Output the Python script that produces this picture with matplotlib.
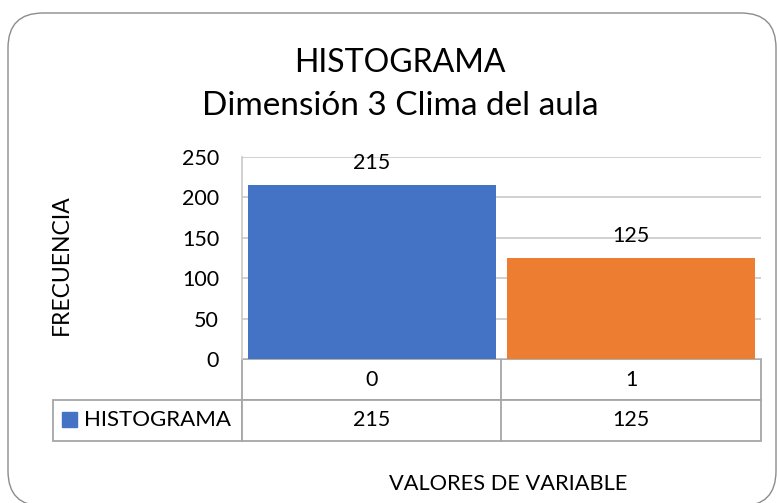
import matplotlib.pyplot as plt
from matplotlib.patches import FancyBboxPatch, Rectangle
from matplotlib.table import Table

# chart data
categories = ["0", "1"]
freq = [215, 125]
series_name = "HISTOGRAMA"
bar_colors = ["#4472C4", "#ED7D31"]
yticks = [0, 50, 100, 150, 200, 250]

title_1 = "HISTOGRAMA"
title_2 = "Dimensión 3 Clima del aula"
ylabel = "FRECUENCIA"
xlabel = "VALORES DE VARIABLE"

plt.rcParams["font.family"] = ["Lato", "DejaVu Sans"]

W, H = 777, 503
fig = plt.figure(figsize=(W / 100, H / 100), dpi=100)


def fx(px):
    return px / W


def fy(py):
    return 1 - py / H


# rounded outer frame of the chart (kept behind everything)
frame = FancyBboxPatch((fx(8), fy(506)), fx(776) - fx(8), fy(13) - fy(506),
                       boxstyle="round,pad=0,rounding_size=0.045",
                       transform=fig.transFigure, facecolor="white",
                       edgecolor="#8c8c8c", lw=1.0, mutation_aspect=W / H,
                       zorder=-10)
fig.patches.append(frame)

# plot area
left, right, top, bottom = 242, 761, 157, 359
ax = fig.add_axes([fx(left), fy(bottom), fx(right) - fx(left), fy(top) - fy(bottom)])
ax.set_facecolor("none")

x = list(range(len(categories)))
bars = ax.bar(x, freq, width=0.955, color=bar_colors, zorder=3)
ax.bar_label(bars, labels=[str(v) for v in freq], padding=9, fontsize=15.5)

ax.set_xlim(-0.5, len(categories) - 0.5)
ax.set_ylim(0, 250)
ax.set_yticks(yticks)
ax.set_yticklabels([str(t) for t in yticks], fontsize=15.5)
ax.tick_params(axis="y", length=0, pad=16.5)
ax.set_xticks([])
ax.yaxis.grid(True, color="#c8c8c8", lw=1.2, zorder=0)
ax.set_axisbelow(True)
for s in ["top", "right", "bottom"]:
    ax.spines[s].set_visible(False)
ax.spines["left"].set_color("#c8c8c8")
ax.spines["left"].set_linewidth(1.2)

# data table under the axis (bbox covers the value columns only,
# the row-label column hangs to the left of it)
plot_h = bottom - top
plot_w = right - left
row_h = 41 / plot_h
lab_w = (left - 53) / plot_w
tb = Table(ax, bbox=[0, -2 * row_h, 1, 2 * row_h])
col_w = 1 / len(categories)
for j, c in enumerate(categories):
    tb.add_cell(0, j, col_w, row_h, text=c, loc="center")
tb.add_cell(1, -1, lab_w, row_h, text=series_name, loc="left")
for j, v in enumerate(freq):
    tb.add_cell(1, j, col_w, row_h, text=str(v), loc="center")
tb.auto_set_font_size(False)
for (r, c), cell in tb.get_celld().items():
    cell.set_edgecolor("#a6a6a6")
    cell.set_linewidth(1.3)
    cell.set_facecolor("white")
    cell.get_text().set_fontsize(16 if c == -1 else 15.5)
    if c == -1:
        cell.PAD = 31 / (left - 53)
ax.add_table(tb)

# legend key inside the table
key_x0 = (62 - left) / plot_w
key_y0 = (bottom - 427) / plot_h
ax.add_patch(Rectangle((key_x0, key_y0), 15 / plot_w, 15 / plot_h,
                       transform=ax.transAxes, color=bar_colors[0],
                       clip_on=False, zorder=5))

# titles and axis labels
fig.text(fx(400), fy(71.5), title_1, ha="center", va="baseline", fontsize=23)
fig.text(fx(400), fy(115), title_2, ha="center", va="baseline", fontsize=24)
fig.text(fx(61), fy(265), ylabel, rotation=90, ha="center", va="center", fontsize=16.5)
fig.text(fx(508), fy(490), xlabel, ha="center", va="baseline", fontsize=15.7)

fig.savefig("out.png", dpi=100)
